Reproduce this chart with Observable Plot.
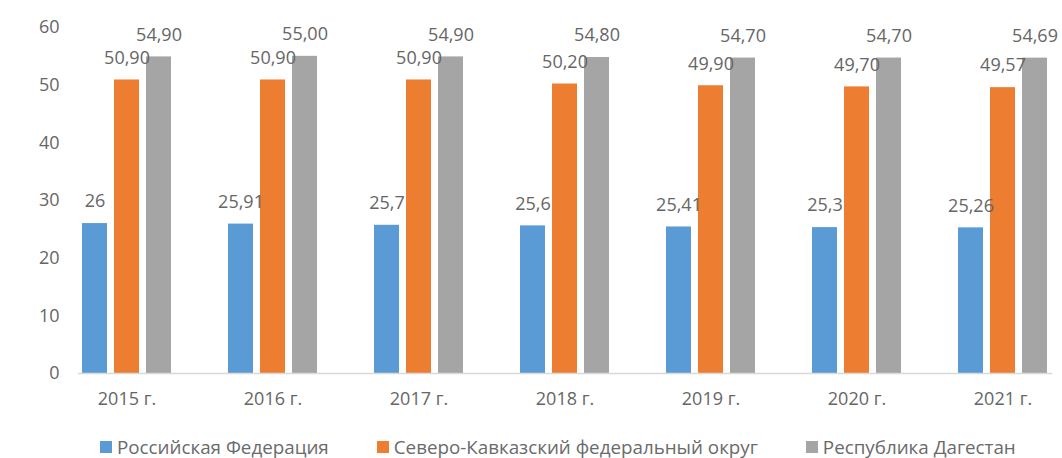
<!DOCTYPE html>
<html>
<head>
<meta charset="utf-8">
<script src="https://cdn.jsdelivr.net/npm/d3@7"></script>
<script src="https://cdn.jsdelivr.net/npm/@observablehq/plot@0.6"></script>
<style>
  html, body { margin: 0; padding: 0; background: #fff; }
  body { width: 1062px; height: 458px; overflow: hidden; font-family: "Open Sans", sans-serif; }
  #chart svg { display: block; }
  #legend { display: flex; gap: 48px; padding-left: 100px; margin-top: 15px; line-height: 24px; font-size: 18.8px; color: #6a6a6a; }
  #legend .item { display: flex; align-items: center; white-space: nowrap; }
  #legend .sw { width: 12px; height: 12px; margin-right: 5px; display: inline-block; }
</style>
</head>
<body>
<div id="chart"></div>
<div id="legend"></div>
<script>
const years = ["2015 г.", "2016 г.", "2017 г.", "2018 г.", "2019 г.", "2020 г.", "2021 г."];
const seriesNames = ["Российская Федерация", "Северо-Кавказский федеральный округ", "Республика Дагестан"];
const colors = ["#5B9BD5", "#ED7D31", "#A5A5A5"];
const rfValues = [26, 25.91, 25.7, 25.6, 25.41, 25.3, 25.26];
const skfoValues = [50.9, 50.9, 50.9, 50.2, 49.9, 49.7, 49.57];
const dagValues = [54.9, 55.0, 54.9, 54.8, 54.7, 54.7, 54.69];
const rfLabels = ["26", "25,91", "25,7", "25,6", "25,41", "25,3", "25,26"];
const skfoLabels = ["50,90", "50,90", "50,90", "50,20", "49,90", "49,70", "49,57"];
const dagLabels = ["54,90", "55,00", "54,90", "54,80", "54,70", "54,70", "54,69"];
const yTicks = [0, 10, 20, 30, 40, 50, 60];

const valueSets = [rfValues, skfoValues, dagValues];
const labelSets = [rfLabels, skfoLabels, dagLabels];
const rows = [];
years.forEach((yr, i) => {
  seriesNames.forEach((s, j) => {
    rows.push({year: yr, series: s, value: valueSets[j][i], label: labelSets[j][i]});
  });
});

const textColor = "#666666";

const chart = Plot.plot({
  width: 1062,
  height: 420,
  marginLeft: 52,
  marginRight: 0,
  marginTop: 27,
  marginBottom: 47,
  style: {fontFamily: "'Open Sans', sans-serif", fontSize: "18px", color: textColor, background: "#fff"},
  fx: {domain: years, paddingInner: 0.334, paddingOuter: 0.1165, align: 0.72, label: null},
  x: {domain: seriesNames, paddingInner: 0.23, paddingOuter: 0.115, axis: null},
  y: {domain: [0, 60], label: null},
  color: {domain: seriesNames, range: colors},
  marks: [
    Plot.axisY({ticks: yTicks, tickSize: 0, tickPadding: 19, label: null, fill: textColor}),
    Plot.axisFx({anchor: "bottom", tickSize: 0, tickPadding: 19, label: null, fill: textColor}),
    Plot.barY(rows, {fx: "year", x: "series", y: "value", fill: "series"}),
    Plot.frame({anchor: "bottom", facet: "super", stroke: "#d9d9d9", strokeWidth: 1.5}),
    Plot.text(rows, {fx: "year", x: "series", y: "value", text: "label", dy: -22, fill: textColor, fontSize: 18})
  ]
});
document.getElementById("chart").appendChild(chart);

const legend = document.getElementById("legend");
seriesNames.forEach((s, i) => {
  const item = document.createElement("span");
  item.className = "item";
  const sw = document.createElement("span");
  sw.className = "sw";
  sw.style.background = colors[i];
  item.appendChild(sw);
  item.appendChild(document.createTextNode(s));
  legend.appendChild(item);
});
</script>
</body>
</html>
